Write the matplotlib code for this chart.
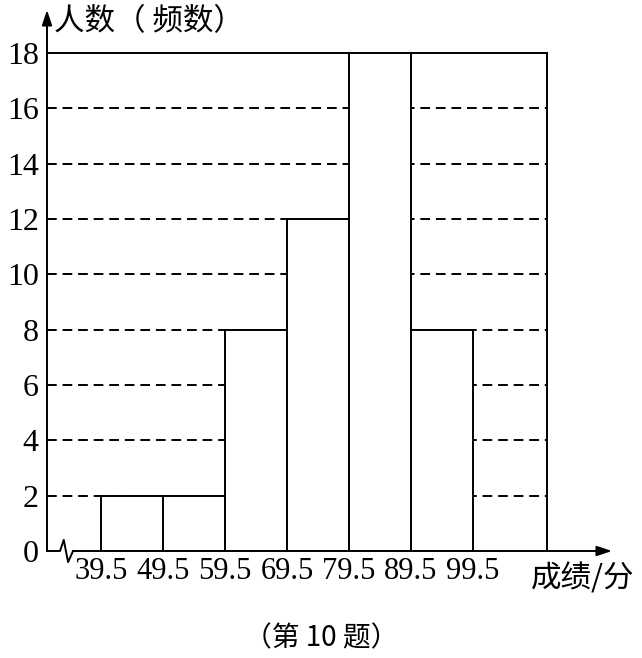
import numpy as np
import matplotlib
matplotlib.use("Agg")
import matplotlib.pyplot as plt

plt.rcParams['font.family'] = ['Liberation Serif', 'Noto Sans CJK SC', 'DejaVu Sans']

# histogram data
edges = [39.5, 49.5, 59.5, 69.5, 79.5, 89.5, 99.5]
counts = [2, 2, 8, 12, 18, 8]
y_ticks = [0, 2, 4, 6, 8, 10, 12, 14, 16, 18]
x_tick_labels = ["39.5", "49.5", "59.5", "69.5", "79.5", "89.5", "99.5"]
y_title = "人数（ 频数）"
x_title = "成绩/分"
caption = "（第 10 题）"

W, H = 642, 658
fig = plt.figure(figsize=(W / 100, H / 100), dpi=100)

# axes placed so that y-axis sits at px 47, arrow tip at px 612
x0, x_end = 30.8, 121.9
y_top = 19.55
frame_x = 111.4
ax = fig.add_axes([47 / W, (H - 551) / H, (612 - 47) / W, (551 - 10) / H])
ax.set_xlim(x0, x_end)
ax.set_ylim(0, y_top)
for s in ax.spines.values():
    s.set_visible(False)

lw = 1.4
# dashed grid lines
for y in y_ticks[1:-1]:
    ax.plot([x0, frame_x], [y, y], color="black", lw=lw, ls=(0, (5, 3)), zorder=1)
# outer frame at top and right
ax.plot([x0, frame_x], [18, 18], color="black", lw=lw, zorder=1)
ax.plot([frame_x, frame_x], [0, 18], color="black", lw=lw, zorder=1)

# bars
ax.bar(edges[:-1], counts, width=np.diff(edges), align="edge",
       facecolor="white", edgecolor="black", linewidth=lw, zorder=2)

# y axis with arrow
ax.annotate("", xy=(x0, y_top), xytext=(x0, 0),
            arrowprops=dict(arrowstyle="-|>,head_length=0.9,head_width=0.3",
                            color="black", lw=lw, shrinkA=0, shrinkB=0),
            annotation_clip=False, zorder=3)
# x axis with break symbol and arrow
bx = [x0, 32.9, 33.5, 34.2, 35.0]
by = [0, 0, 0.4, -0.4, 0]
ax.plot(bx, by, color="black", lw=lw, clip_on=False, zorder=3)
ax.annotate("", xy=(x_end, 0), xytext=(35.0, 0),
            arrowprops=dict(arrowstyle="-|>,head_length=0.9,head_width=0.3",
                            color="black", lw=lw, shrinkA=0, shrinkB=0),
            annotation_clip=False, zorder=3)

# tick labels
ax.set_xticks(edges)
ax.set_xticklabels(x_tick_labels, fontsize=22)
ax.set_yticks(y_ticks)
ax.set_yticklabels([str(v) for v in y_ticks], fontsize=23)
ax.tick_params(axis="both", length=0)
ax.tick_params(axis="x", pad=4)
ax.tick_params(axis="y", pad=6)

# titles
ax.text(32.0, y_top + 0.15, y_title, fontsize=22, ha="left", va="top",
        family=['Noto Sans CJK SC', 'DejaVu Sans'])
ax.text(117.2, -0.45, x_title, fontsize=22, ha="center", va="top",
        family=['Noto Sans CJK SC', 'DejaVu Sans'])
fig.text(0.5, (H - 638) / H, caption, fontsize=20, ha="center", va="center",
         family=['Noto Sans CJK SC', 'DejaVu Sans'])

fig.savefig("out.png", dpi=100)
